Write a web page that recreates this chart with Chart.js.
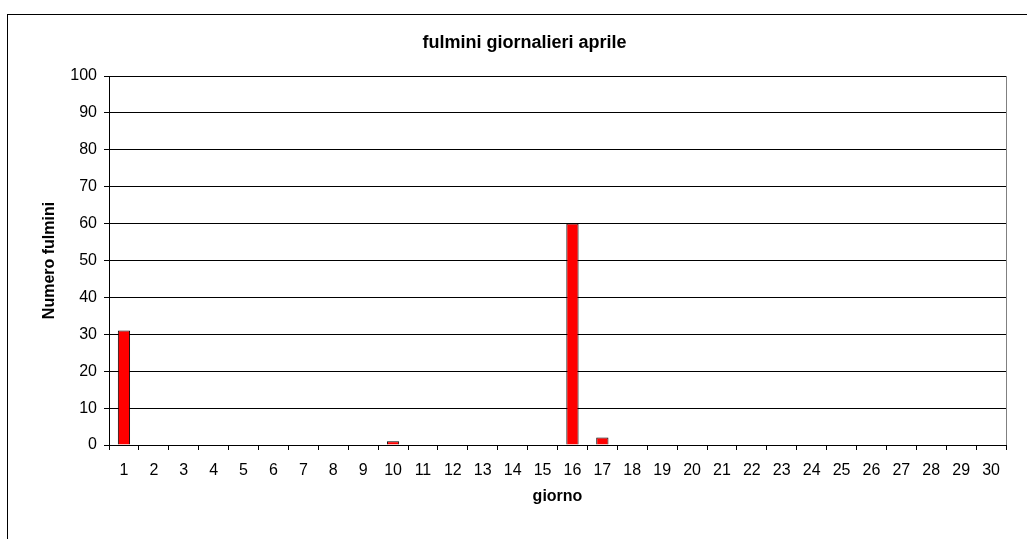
<!DOCTYPE html>
<html>
<head>
<meta charset="utf-8">
<script src="https://cdn.jsdelivr.net/npm/chart.js@4/dist/chart.umd.min.js"></script>
<style>
  html, body { margin: 0; padding: 0; background: #fff; overflow: hidden; }
  #wrap { position: absolute; left: 0; top: 0; width: 1027px; height: 539px; }
  #frame { position: absolute; left: 7px; top: 14px; width: 1036px; height: 560px; border: 1px solid #000; box-sizing: border-box; }
</style>
</head>
<body>
<div id="frame"></div>
<div id="wrap"><canvas id="c" width="1027" height="539"></canvas></div>
<script>
const days = ['1','2','3','4','5','6','7','8','9','10','11','12','13','14','15','16','17','18','19','20','21','22','23','24','25','26','27','28','29','30'];
const lightning = [31,0,0,0,0,0,0,0,0,1,0,0,0,0,0,60,2,0,0,0,0,0,0,0,0,0,0,0,0,0];
const yTicks = [0,10,20,30,40,50,60,70,80,90,100];
const chartTitle = 'fulmini giornalieri aprile';
const xTitle = 'giorno';
const yTitle = 'Numero fulmini';

const FONT = 'Liberation Sans, Arial, Helvetica, sans-serif';

const rightBorder = {
  id: 'rightBorder',
  afterDraw(chart) {
    const a = chart.chartArea, ctx = chart.ctx;
    ctx.save();
    ctx.strokeStyle = '#808080';
    ctx.lineWidth = 1;
    ctx.beginPath();
    ctx.moveTo(Math.round(a.right) + 0.5, a.top);
    ctx.lineTo(Math.round(a.right) + 0.5, a.bottom);
    ctx.stroke();
    ctx.restore();
  }
};

const LEFT_PAD = 43;

new Chart(document.getElementById('c'), {
  type: 'bar',
  data: {
    labels: days,
    datasets: [{
      data: lightning,
      backgroundColor: '#ff0000',
      borderColor: '#000000',
      borderWidth: 1,
      borderSkipped: 'bottom',
      barPercentage: 0.41,
      categoryPercentage: 1.0
    }]
  },
  options: {
    responsive: false,
    animation: false,
    devicePixelRatio: 1,
    layout: { padding: { left: LEFT_PAD, right: 21, top: 0, bottom: 0 } },
    plugins: {
      legend: { display: false },
      tooltip: { enabled: false },
      title: {
        display: true,
        text: chartTitle,
        color: '#000',
        font: { family: FONT, size: 18, weight: 'bold', lineHeight: 1.2 },
        padding: { top: 32, bottom: 22.4 }
      }
    },
    scales: {
      x: {
        offset: true,
        afterFit(s) { s.height = 94; },
        grid: { display: true, drawOnChartArea: false, drawTicks: true, tickLength: 5, color: '#000', offset: true },
        border: { display: true, color: '#000', width: 1 },
        ticks: { color: '#000', font: { family: FONT, size: 16 }, padding: 11, maxRotation: 0, autoSkip: false },
        title: { display: true, text: xTitle, color: '#000', font: { family: FONT, size: 16, weight: 'bold', lineHeight: 1.2 }, padding: { top: 10, bottom: 32.4 } }
      },
      y: {
        min: 0,
        max: 100,
        afterFit(s) { s.width = 109 - LEFT_PAD; },
        afterBuildTicks(s) { s.ticks = yTicks.map(v => ({ value: v })); },
        grid: { display: true, drawTicks: true, tickLength: 5, color: '#000', lineWidth: 1 },
        border: { display: true, color: '#000', width: 1 },
        ticks: { color: '#000', font: { family: FONT, size: 16 }, padding: 7 },
        title: { display: true, text: yTitle, color: '#000', font: { family: FONT, size: 16, weight: 'bold', lineHeight: 1.2 }, padding: { top: -2.6, bottom: 0 } }
      }
    }
  },
  plugins: [rightBorder]
});
</script>
</body>
</html>
